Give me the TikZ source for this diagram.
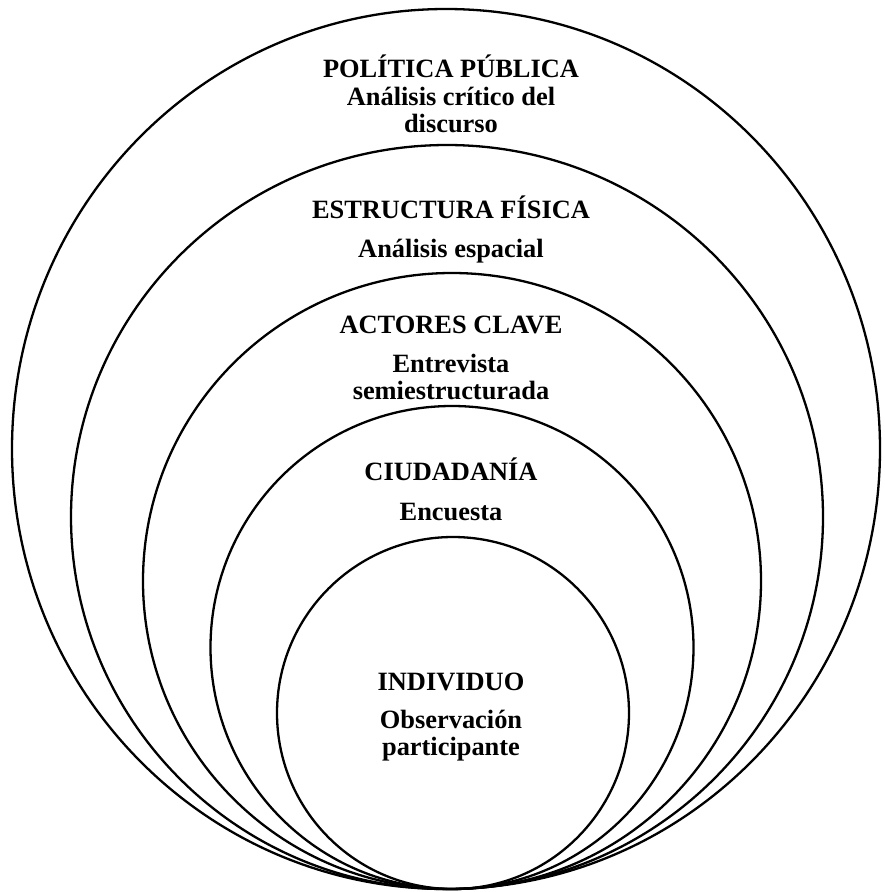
\documentclass[tikz,border=0pt]{standalone}
\usepackage{fontspec}
\setmainfont{Liberation Serif}
\begin{document}
\begin{tikzpicture}[x=1pt,y=-1pt,
  ring/.style={draw=black,line width=2.3pt},
  lbl/.style={font=\bfseries\fontsize{26.4}{30}\selectfont,anchor=base,inner sep=0pt}]
\useasboundingbox[fill=white] (0,0) rectangle (884,892);
% rings
\draw[ring] (446,449) ellipse [x radius=434pt, y radius=440pt];
\draw[ring] (447,517) ellipse [x radius=376pt, y radius=372pt];
\draw[ring] (452,581) ellipse [x radius=309pt, y radius=308pt];
\draw[ring] (452,647.5) ellipse [x radius=241.5pt, y radius=241.5pt];
\draw[ring] (453,713) ellipse [x radius=176pt, y radius=176pt];
% labels
\node[lbl] (pp)  at (451,77)  {POLÍTICA PÚBLICA};
\node[lbl] (pp1) at (451,105) {Análisis crítico del};
\node[lbl] (pp2) at (451,132) {discurso};
\node[lbl] (ef)  at (451,218) {ESTRUCTURA FÍSICA};
\node[lbl] (ef1) at (451,257) {Análisis espacial};
\node[lbl] (ac)  at (451,333) {ACTORES CLAVE};
\node[lbl] (ac1) at (451,372) {Entrevista};
\node[lbl] (ac2) at (451,399) {semiestructurada};
\node[lbl] (ci)  at (451,480) {CIUDADANÍA};
\node[lbl] (ci1) at (451,520) {Encuesta};
\node[lbl] (in)  at (451,690) {INDIVIDUO};
\node[lbl] (in1) at (451,728) {Observación};
\node[lbl] (in2) at (451,755) {participante};
\end{tikzpicture}
\end{document}
